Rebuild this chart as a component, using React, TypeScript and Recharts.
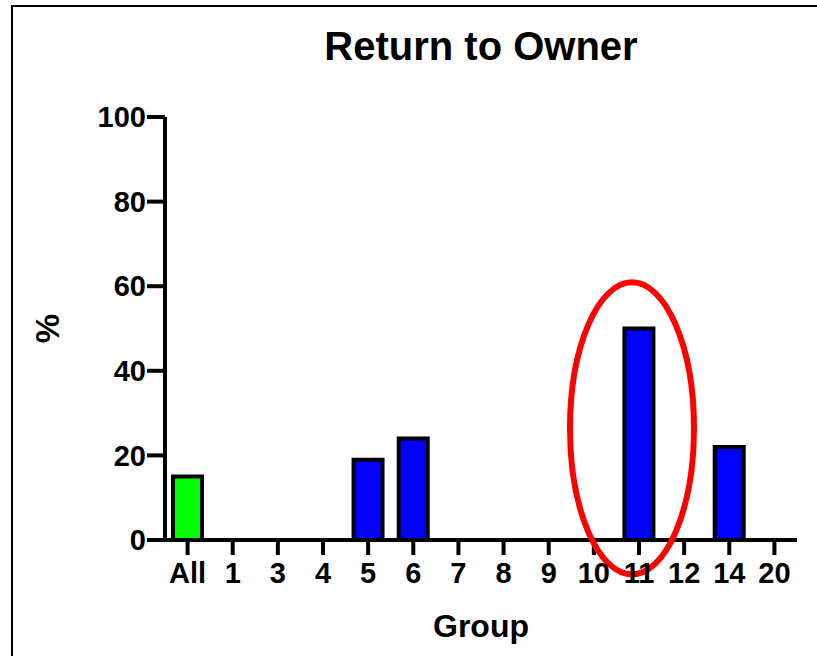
import React from 'react';
import { BarChart, Bar, XAxis, YAxis, Cell, ReferenceDot } from 'recharts';

const groups = ['All', '1', '3', '4', '5', '6', '7', '8', '9', '10', '11', '12', '14', '20'];
const percents = [15, 0, 0, 0, 19, 24, 0, 0, 0, 0, 50, 0, 22, 0];
const yTicks = [0, 20, 40, 60, 80, 100];

// group that gets the red circle, and the height (in %) of the circle's centre
const circledGroup = '11';
const circleCentre = 26.4;

const data = groups.map((g, i) => ({ group: g, pct: percents[i] }));

const FONT = '"Liberation Sans", Arial, Helvetica, sans-serif';

// ellipse drawn around the highlighted bar
const Highlight = (props: any) => {
  const { cx, cy } = props;
  if (cx == null || cy == null) return null;
  return <ellipse cx={cx - 7} cy={cy} rx={62} ry={146} fill="none" stroke="#ff0000" strokeWidth={6} />;
};

const PercentLabel = (props: any) => {
  const vb = props.viewBox || {};
  const x = (vb.x || 0) + 47;
  const y = (vb.y || 0) + (vb.height || 0) / 2;
  return (
    <text
      x={x}
      y={y}
      transform={`rotate(-90, ${x}, ${y})`}
      textAnchor="middle"
      dominantBaseline="central"
      fontFamily={FONT}
      fontWeight="bold"
      fontSize={33}
      fill="#000"
    >
      %
    </text>
  );
};

const tickStyle = { fill: '#000', fontSize: 29, fontWeight: 'bold', fontFamily: FONT };

export default function App() {
  return (
    <div style={{ position: 'absolute', left: 0, top: 0, width: 817, height: 656, background: '#fff', overflow: 'hidden' }}>
      <div
        style={{
          position: 'absolute',
          left: 11,
          top: 5,
          width: 804,
          height: 660,
          borderTop: '2px solid #000',
          borderLeft: '2px solid #000',
          borderRight: '1px solid #aaa',
        }}
      />
      <div style={{ position: 'absolute', left: 0, top: 0 }}>
        <BarChart width={817} height={656} data={data} margin={{ top: 117, right: 20, bottom: 0, left: 0 }}>
          <text x={481} y={60} textAnchor="middle" fontFamily={FONT} fontWeight="bold" fontSize={40} fill="#000">
            Return to Owner
          </text>
          <XAxis
            dataKey="group"
            type="category"
            interval={0}
            height={116}
            tick={tickStyle}
            tickSize={15}
            tickMargin={7}
            axisLine={{ stroke: '#000', strokeWidth: 4 }}
            tickLine={{ stroke: '#000', strokeWidth: 4 }}
            label={{ value: 'Group', position: 'insideBottom', offset: 19, fontSize: 32, fontWeight: 'bold', fontFamily: FONT, fill: '#000' }}
          />
          <YAxis
            domain={[0, 100]}
            ticks={yTicks}
            width={165}
            tick={tickStyle}
            tickSize={18}
            tickMargin={1}
            axisLine={{ stroke: '#000', strokeWidth: 4 }}
            tickLine={{ stroke: '#000', strokeWidth: 4 }}
            label={{ content: PercentLabel }}
          />
          <Bar dataKey="pct" barSize={29} stroke="#000" strokeWidth={4} isAnimationActive={false}>
            {data.map((d) => (
              <Cell key={d.group} fill={d.group === 'All' ? '#00ff00' : '#0000ff'} />
            ))}
          </Bar>
          <ReferenceDot x={circledGroup} y={circleCentre} shape={Highlight} ifOverflow="visible" />
        </BarChart>
      </div>
    </div>
  );
}
